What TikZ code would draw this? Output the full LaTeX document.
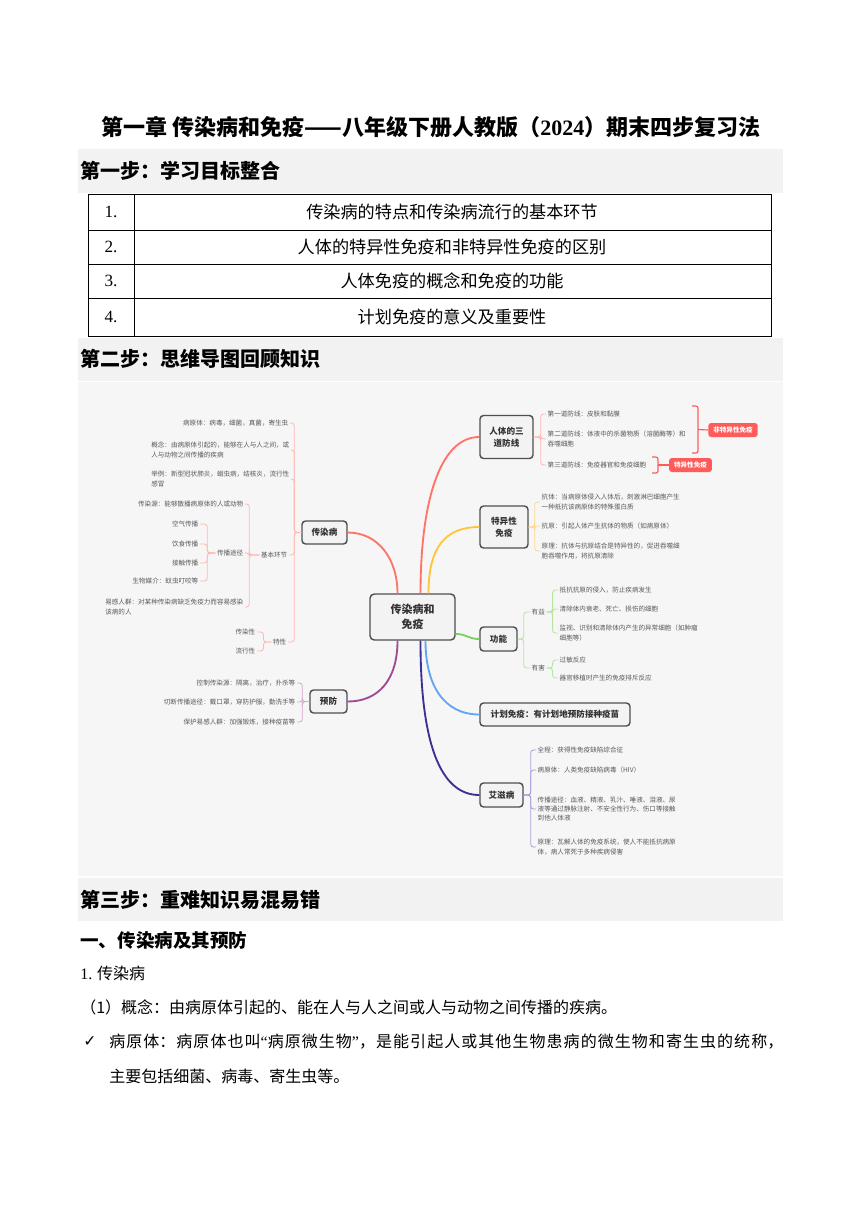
\documentclass[tikz,border=0pt]{standalone}
\usepackage{fontspec}
\setmainfont{Noto Sans CJK SC}
\newfontfamily\symfont{DejaVu Sans}
\newfontfamily\latinfont{Liberation Serif}
\usetikzlibrary{positioning}
\definecolor{mapbg}{HTML}{F6F6F6}
\definecolor{bandgray}{HTML}{F2F2F2}
\definecolor{leafgray}{HTML}{595959}
\definecolor{topicgray}{HTML}{4F4F4F}
\definecolor{topicfill}{HTML}{F3F3F3}
\definecolor{crred}{HTML}{FF7468}
\definecolor{crlight}{HTML}{FFB9B3}
\definecolor{tyorange}{HTML}{FFC53D}
\definecolor{tylight}{HTML}{FFD98C}
\definecolor{gngreen}{HTML}{7CCF63}
\definecolor{gnlight}{HTML}{B7E3A3}
\definecolor{jhblue}{HTML}{62A5F2}
\definecolor{azindigo}{HTML}{3D2F93}
\definecolor{azlight}{HTML}{A7A0DB}
\definecolor{yfpurple}{HTML}{A04B93}
\definecolor{yflight}{HTML}{D8A8D0}
\definecolor{tagred}{HTML}{FF5B5B}
\newdimen\pxu \pxu=0.7pt
\newcommand{\leafsize}{\fontsize{4.6}{6.5}\selectfont}
\newcommand{\topicsize}{\fontsize{6}{8.5}\selectfont}
\newcommand{\centersize}{\fontsize{7.7}{10.5}\selectfont}
\XeTeXlinebreaklocale "zh"
\XeTeXlinebreakskip=0pt plus 2pt

\begin{document}
\begin{tikzpicture}[
  x=0.7pt, y=-0.7pt,
  leaf/.style={font=\leafsize, text=leafgray, inner sep=1pt, align=left},
  topic/.style={draw=topicgray, line width=1pt, rounded corners=2.5pt, fill=topicfill,
                font=\topicsize\bfseries, text=black!80, align=center, inner sep=0pt},
  tag/.style={fill=tagred, text=white, rounded corners=2pt, font=\leafsize\bfseries,
              inner xsep=3.5pt, inner ysep=0pt, minimum height=14\pxu},
  head/.style={font=\fontsize{14}{16}\selectfont\bfseries, anchor=west, inner sep=0pt},
  body/.style={font=\fontsize{11.2}{14}\selectfont, anchor=west, inner sep=0pt},
  cell/.style={font=\fontsize{12}{14}\selectfont, inner sep=0pt},
  main/.style={line width=1.3pt},
  twig/.style={line width=0.6pt, rounded corners=2pt},
  brk/.style={line width=0.8pt, draw=tagred, rounded corners=1.5pt}
]
  \useasboundingbox (0,0) rectangle (860,1216);
  \fill[white] (0,0) rectangle (860,1216);

  \node[font=\fontsize{15.4}{18}\selectfont\bfseries] (title) at (431,127)
    {第一章 传染病和免疫——八年级下册人教版（{\latinfont\bfseries 2024}）期末四步复习法};

  \fill[bandgray] (78,149) rectangle (783,193);
  \node[head] (step1) at (80,171) {第一步：学习目标整合};
  \draw[line width=0.6pt] (88,194) rectangle (771,336);
  \draw[line width=0.6pt] (88,230) -- (771,230);
  \draw[line width=0.6pt] (88,264) -- (771,264);
  \draw[line width=0.6pt] (88,298) -- (771,298);
  \draw[line width=0.6pt] (134,194) -- (134,336);
  \node[cell] (num1) at (111,212) {\latinfont 1.};
  \node[cell] (num2) at (111,247) {\latinfont 2.};
  \node[cell] (num3) at (111,281) {\latinfont 3.};
  \node[cell] (num4) at (111,317) {\latinfont 4.};
  \node[cell] (goal1) at (452,212) {传染病的特点和传染病流行的基本环节};
  \node[cell] (goal2) at (452,247) {人体的特异性免疫和非特异性免疫的区别};
  \node[cell] (goal3) at (452,281) {人体免疫的概念和免疫的功能};
  \node[cell] (goal4) at (452,317) {计划免疫的意义及重要性};

  \fill[bandgray] (78,338) rectangle (783,381);
  \node[head] (step2) at (80,359) {第二步：思维导图回顾知识};
  \fill[mapbg] (78,382) rectangle (783,876);

  \node[topic, font=\centersize\bfseries, minimum width=85\pxu, minimum height=46\pxu,
        rounded corners=3pt] (zx) at (412.5,617) {传染病和\\免疫};
  \node[topic, minimum width=45\pxu, minimum height=23\pxu] (crb) at (324.5,532.5) {传染病};
  \node[topic, minimum width=37\pxu, minimum height=23\pxu] (yf) at (328.5,701.5) {预防};
  \node[topic, minimum width=53\pxu, minimum height=43\pxu] (fx) at (506.5,437) {人体的三\\道防线};
  \node[topic, minimum width=48\pxu, minimum height=42\pxu] (tyx) at (504,527) {特异性\\免疫};
  \node[topic, minimum width=37\pxu, minimum height=24\pxu] (gn) at (498.5,639) {功能};
  \node[topic, minimum width=150\pxu, minimum height=23\pxu] (jh) at (555,714.5) {计划免疫：有计划地预防接种疫苗};
  \node[topic, minimum width=43\pxu, minimum height=24\pxu] (azb) at (501.5,795) {艾滋病};

  \draw[main, crred] (crb.east) .. controls +(30,0) and +(0,-35) .. ([xshift=-15\pxu]zx.north);
  \draw[main, crred] ([xshift=8\pxu]zx.north) .. controls +(0,-90) and +(-40,0) .. (fx.west);
  \draw[main, tyorange] ([xshift=16\pxu]zx.north) .. controls +(0,-45) and +(-35,0) .. (tyx.west);
  \draw[main, gngreen] ([yshift=-17\pxu]zx.east) .. controls +(12,0) and +(-12,0) .. (gn.west);
  \draw[main, jhblue] ([xshift=13\pxu]zx.south) .. controls +(0,45) and +(-35,0) .. (jh.west);
  \draw[main, azindigo] ([xshift=8\pxu]zx.south) .. controls +(0,100) and +(-40,0) .. (azb.west);
  \draw[main, yfpurple] ([xshift=-15\pxu]zx.south) .. controls +(0,40) and +(30,0) .. (yf.east);

  \node[leaf, anchor=east] (byt) at (290,423) {病原体：病毒，细菌，真菌，寄生虫};
  \node[leaf, anchor=east] (gainian) at (291,450) {概念：由病原体引起的，能够在人与人之间，或\\人与动物之间传播的疾病};
  \node[leaf, anchor=east] (juli) at (291,479) {举例：新型冠状肺炎，蛔虫病，结核炎，流行性\\感冒};
  \node[leaf, anchor=east] (jbhj) at (289,555) {基本环节};
  \node[leaf, anchor=east] (cry) at (245,504) {传染源：能够散播病原体的人或动物};
  \node[leaf, anchor=east] (cbtj) at (245,553) {传播途径};
  \node[leaf, anchor=east] (kq) at (200,524) {空气传播};
  \node[leaf, anchor=east] (ys) at (200,544) {饮食传播};
  \node[leaf, anchor=east] (jc) at (200,563) {接触传播};
  \node[leaf, anchor=east] (swmj) at (200,581) {生物媒介：蚊虫叮咬等};
  \node[leaf, anchor=east] (yg) at (245,607) {易感人群：对某种传染病缺乏免疫力而容易感染\\该病的人};
  \node[leaf, anchor=east] (tx) at (288,642) {特性};
  \node[leaf, anchor=east] (crx) at (257,632) {传染性};
  \node[leaf, anchor=east] (lxx) at (257,651) {流行性};

  \draw[twig, crlight] (crb.west) -- ++(-7,0) |- (byt.east);
  \draw[twig, crlight] (crb.west) -- ++(-7,0) |- (gainian.east);
  \draw[twig, crlight] (crb.west) -- ++(-7,0) |- (juli.east);
  \draw[twig, crlight] (crb.west) -- ++(-7,0) |- (jbhj.east);
  \draw[twig, crlight] (crb.west) -- ++(-7,0) |- (tx.east);
  \draw[twig, crlight] (jbhj.west) -- ++(-10,0) |- (cry.east);
  \draw[twig, crlight] (jbhj.west) -- ++(-10,0) |- (cbtj.east);
  \draw[twig, crlight] (jbhj.west) -- ++(-10,0) |- (yg.east);
  \draw[twig, crlight] (cbtj.west) -- ++(-8,0) |- (kq.east);
  \draw[twig, crlight] (cbtj.west) -- ++(-8,0) |- (ys.east);
  \draw[twig, crlight] (cbtj.west) -- ++(-8,0) |- (jc.east);
  \draw[twig, crlight] (cbtj.west) -- ++(-8,0) |- (swmj.east);
  \draw[twig, crlight] (tx.west) -- ++(-8,0) |- (crx.east);
  \draw[twig, crlight] (tx.west) -- ++(-8,0) |- (lxx.east);

  \node[leaf, anchor=east] (kz) at (297,683) {控制传染源：隔离，治疗，扑杀等};
  \node[leaf, anchor=east] (qd) at (297,702) {切断传播途径：戴口罩，穿防护服，勤洗手等};
  \node[leaf, anchor=east] (bh) at (297,722) {保护易感人群：加强锻炼，接种疫苗等};
  \draw[twig, yflight] (yf.west) -- ++(-7,0) |- (kz.east);
  \draw[twig, yflight] (yf.west) -- ++(-7,0) |- (qd.east);
  \draw[twig, yflight] (yf.west) -- ++(-7,0) |- (bh.east);

  \node[leaf, anchor=west] (dy) at (546,414) {第一道防线：皮肤和黏膜};
  \node[leaf, anchor=west] (de) at (546,439) {第二道防线：体液中的杀菌物质（溶菌酶等）和\\吞噬细胞};
  \node[leaf, anchor=west] (ds) at (546,465) {第三道防线：免疫器官和免疫细胞};
  \draw[twig, crlight] (fx.east) -- ++(7,0) |- (dy.west);
  \draw[twig, crlight] (fx.east) -- ++(7,0) |- (de.west);
  \draw[twig, crlight] (fx.east) -- ++(7,0) |- (ds.west);
  \node[tag] (fty) at (733,430) {非特异性免疫};
  \node[tag] (ty) at (690.5,465) {特异性免疫};
  \draw[brk] (692,406) -- (698,406) -- (698,453) -- (692,453);
  \draw[brk] (698,429.5) -- (fty.west);
  \draw[brk] (652,457) -- (658,457) -- (658,473) -- (652,473);
  \draw[brk] (658,465) -- (ty.west);

  \node[leaf, anchor=west] (kt) at (540,502) {抗体：当病原体侵入人体后，刺激淋巴细胞产生\\一种抵抗该病原体的特殊蛋白质};
  \node[leaf, anchor=west] (ky) at (540,526) {抗原：引起人体产生抗体的物质（如病原体）};
  \node[leaf, anchor=west] (ylty) at (540,551) {原理：抗体与抗原结合是特异性的，促进吞噬细\\胞吞噬作用，将抗原清除};
  \draw[twig, tylight] (tyx.east) -- ++(6,0) |- (kt.west);
  \draw[twig, tylight] (tyx.east) -- ++(6,0) |- (ky.west);
  \draw[twig, tylight] (tyx.east) -- ++(6,0) |- (ylty.west);

  \node[leaf, anchor=west] (yy) at (530,612) {有益};
  \node[leaf, anchor=west] (yh) at (530,668) {有害};
  \node[leaf, anchor=west] (dk) at (558,590) {抵抗抗原的侵入，防止疾病发生};
  \node[leaf, anchor=west] (qc) at (558,609) {清除体内衰老、死亡、损伤的细胞};
  \node[leaf, anchor=west] (js) at (558,633) {监视、识别和清除体内产生的异常细胞（如肿瘤\\细胞等）};
  \node[leaf, anchor=west] (gm) at (558,660) {过敏反应};
  \node[leaf, anchor=west] (yz) at (558,678) {器官移植时产生的免疫排斥反应};
  \draw[twig, gnlight] (gn.east) -- ++(6,0) |- (yy.west);
  \draw[twig, gnlight] (gn.east) -- ++(6,0) |- (yh.west);
  \draw[twig, gnlight] (yy.east) -- ++(6,0) |- (dk.west);
  \draw[twig, gnlight] (yy.east) -- ++(6,0) |- (qc.west);
  \draw[twig, gnlight] (yy.east) -- ++(6,0) |- (js.west);
  \draw[twig, gnlight] (yh.east) -- ++(6,0) |- (gm.west);
  \draw[twig, gnlight] (yh.east) -- ++(6,0) |- (yz.west);

  \node[leaf, anchor=west] (qcheng) at (536,750) {全程：获得性免疫缺陷综合征};
  \node[leaf, anchor=west] (hiv) at (536,770) {病原体：人类免疫缺陷病毒（HIV）};
  \node[leaf, anchor=west] (cbaz) at (536,809) {传播途径：血液、精液、乳汁、唾液、泪液、尿\\液等通过静脉注射、不安全性行为、伤口等接触\\到他人体液};
  \node[leaf, anchor=west] (ylaz) at (536,847) {原理：瓦解人体的免疫系统，使人不能抵抗病原\\体，病人常死于多种疾病侵害};
  \draw[twig, azlight] (azb.east) -- ++(7,0) |- (qcheng.west);
  \draw[twig, azlight] (azb.east) -- ++(7,0) |- (hiv.west);
  \draw[twig, azlight] (azb.east) -- ++(7,0) |- (cbaz.west);
  \draw[twig, azlight] (azb.east) -- ++(7,0) |- (ylaz.west);

  \fill[bandgray] (78,878) rectangle (783,921);
  \node[head] (step3) at (80,900) {第三步：重难知识易混易错};
  \node[head, font=\fontsize{13}{15}\selectfont\bfseries] (sec1) at (80,940) {一、传染病及其预防};
  \node[body] (sub1) at (80,973) {{\latinfont 1.} 传染病};
  \node[body] (concept) at (80,1007) {（1）概念：由病原体引起的、能在人与人之间或人与动物之间传播的疾病。};
  \node[body, font=\symfont\fontsize{11}{14}\selectfont] (tick) at (83,1042) {✓};
  \node[body, anchor=north west, text width=674\pxu, align=justify,
        font=\fontsize{11.2}{24.5}\selectfont] (pathogen) at (109,1034)
    {病原体：病原体也叫{\latinfont “}病原微生物{\latinfont ”}，是能引起人或其他生物患病的微生物和寄生虫的统称，\linebreak 主要包括细菌、病毒、寄生虫等。};
\end{tikzpicture}
\end{document}
